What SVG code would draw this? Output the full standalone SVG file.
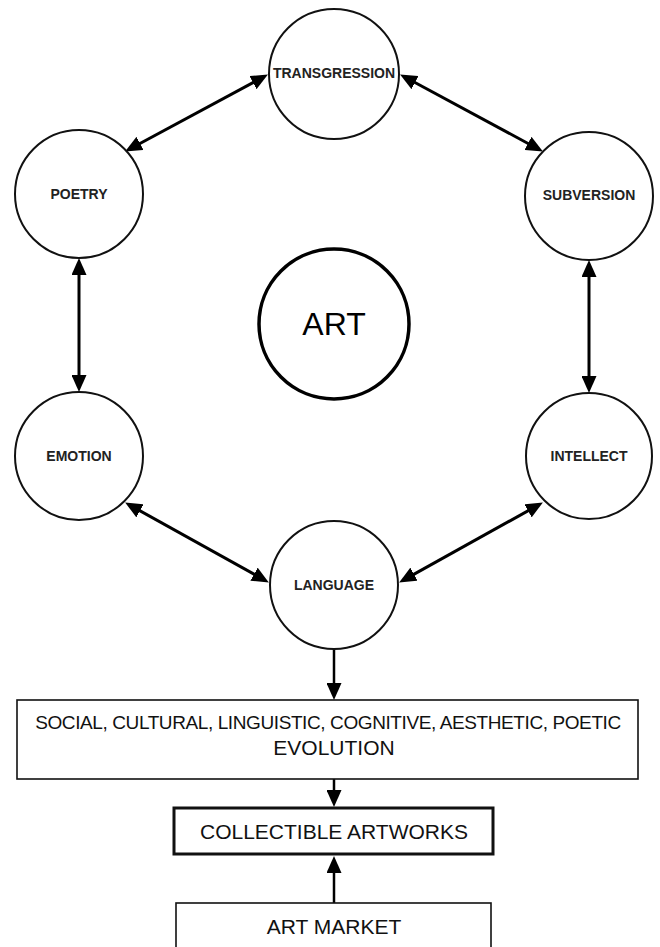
<svg xmlns="http://www.w3.org/2000/svg" width="660" height="947" viewBox="0 0 660 947">
<style>
.c{fill:#fff;stroke:#111;stroke-width:2}
.lbl{font-family:"Liberation Sans",Arial,sans-serif;font-size:14px;font-weight:bold;fill:#222;text-anchor:middle}
.box{fill:#fff;stroke:#111;stroke-width:1.6}
.bt{font-family:"Liberation Sans",Arial,sans-serif;font-size:21px;fill:#111;text-anchor:middle}
.bt1{font-family:"Liberation Sans",Arial,sans-serif;font-size:19px;letter-spacing:-0.4px;fill:#111;text-anchor:middle}
.ln{stroke:#000;stroke-width:3;fill:none}
.lv{stroke:#000;stroke-width:2.5;fill:none}
</style>
<defs>
<marker id="ah" viewBox="0 0 17 15" refX="8" refY="7.5" markerWidth="17" markerHeight="15" markerUnits="userSpaceOnUse" orient="auto-start-reverse">
<path d="M0,0 L17,7.5 L0,15 Z" fill="#000"/>
</marker>
</defs>
<rect width="660" height="947" fill="#fff"/>
<g id="connectors">
<line class="ln" x1="133.0" y1="147.2" x2="260.0" y2="78.8" marker-start="url(#ah)" marker-end="url(#ah)"/>
<line class="ln" x1="408.0" y1="78.8" x2="535.0" y2="147.2" marker-start="url(#ah)" marker-end="url(#ah)"/>
<line class="ln" x1="79" y1="267" x2="79" y2="383" marker-start="url(#ah)" marker-end="url(#ah)"/>
<line class="ln" x1="589" y1="269" x2="589" y2="384" marker-start="url(#ah)" marker-end="url(#ah)"/>
<line class="ln" x1="133.0" y1="506.9" x2="261.0" y2="578.1" marker-start="url(#ah)" marker-end="url(#ah)"/>
<line class="ln" x1="535.0" y1="506.9" x2="407.0" y2="578.1" marker-start="url(#ah)" marker-end="url(#ah)"/>
<line class="lv" x1="334" y1="649" x2="334" y2="691" marker-end="url(#ah)"/>
<line class="lv" x1="334" y1="779" x2="334" y2="798" marker-end="url(#ah)"/>
<line class="lv" x1="334" y1="903" x2="334" y2="865" marker-end="url(#ah)"/>
</g>
<g id="transgression"><circle class="c" cx="334" cy="74" r="65"/><text class="lbl" x="334" y="78">TRANSGRESSION</text></g>
<g id="poetry"><circle class="c" cx="79" cy="194" r="64"/><text class="lbl" x="79" y="199">POETRY</text></g>
<g id="subversion"><circle class="c" cx="589" cy="196" r="64"/><text class="lbl" x="589" y="200">SUBVERSION</text></g>
<g id="art"><circle cx="334" cy="324" r="75" fill="#fff" stroke="#000" stroke-width="3.5"/><text x="334" y="335" font-family="'Liberation Sans',Arial,sans-serif" font-size="32" text-anchor="middle" fill="#000">ART</text></g>
<g id="emotion"><circle class="c" cx="79" cy="456" r="64"/><text class="lbl" x="79" y="461">EMOTION</text></g>
<g id="intellect"><circle class="c" cx="589" cy="456" r="63"/><text class="lbl" x="589" y="461">INTELLECT</text></g>
<g id="language"><circle class="c" cx="334" cy="585" r="64"/><text class="lbl" x="334" y="590">LANGUAGE</text></g>
<g id="evolution"><rect class="box" x="17" y="700" width="621" height="79"/>
<text class="bt1" x="328" y="729">SOCIAL, CULTURAL, LINGUISTIC, COGNITIVE, AESTHETIC, POETIC</text>
<text class="bt" x="334" y="755">EVOLUTION</text></g>
<g id="collectible"><rect x="174" y="808" width="319" height="46" fill="#fff" stroke="#111" stroke-width="3"/>
<text class="bt" x="334" y="839">COLLECTIBLE ARTWORKS</text></g>
<g id="artmarket"><rect class="box" x="176" y="903" width="315" height="60"/>
<text class="bt" x="334" y="934">ART MARKET</text></g>
</svg>
